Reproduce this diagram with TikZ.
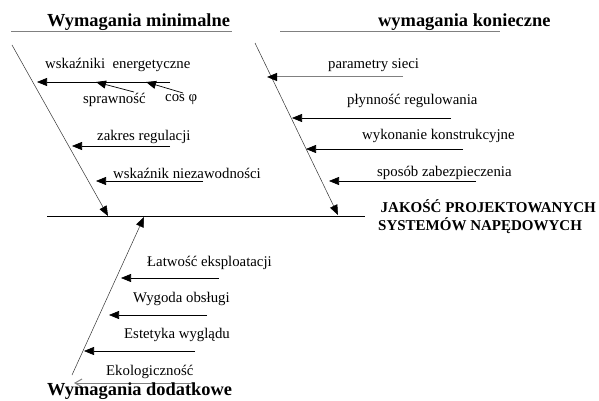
\documentclass[tikz,border=0pt]{standalone}
\usepackage{fontspec}
\setmainfont{Liberation Serif}
\usetikzlibrary{arrows.meta}
\begin{document}
\begin{tikzpicture}[x=1pt,y=-1pt,
  lbl/.style={anchor=west,inner sep=0pt,font=\fontsize{14.8}{17}\selectfont},
  ttl/.style={anchor=west,inner sep=0pt,font=\fontsize{18.4}{21}\selectfont\bfseries},
  tip/.tip={Triangle[length=10pt,width=8pt]},
  arr/.style={-{Triangle[length=10pt,width=8pt,color=black]},line width=0.7pt},
  spine/.style={line width=0.5pt,draw=black!80},
  uline/.style={line width=1pt,draw=black!50}]
\useasboundingbox (0,0) rectangle (599,401);
% titles
\node[ttl] (t1) at (47,22) {Wymagania minimalne};
\node[ttl] (t2) at (378,22) {wymagania konieczne};
\coordinate (u1a) at (11,32); \coordinate (u1b) at (232,32);
\coordinate (u2a) at (280,32); \coordinate (u2b) at (500,32);
\draw[uline] (u1a) -- (u1b);
\draw[uline] (u2a) -- (u2b);
% main horizontal line
\coordinate (ha) at (47,216); \coordinate (hb) at (365,216);
\draw[line width=0.8pt] (ha) -- (hb);
% spines
\coordinate (s1a) at (12,45); \coordinate (s1b) at (108,216);
\coordinate (s2a) at (255,43); \coordinate (s2b) at (338,215);
\coordinate (s3a) at (72,375); \coordinate (s3b) at (144,217);
\draw[spine,-{Triangle[length=10pt,width=8pt,color=black]}] (s1a) -- (s1b);
\draw[spine,-{Triangle[length=10pt,width=8pt,color=black]}] (s2a) -- (s2b);
\draw[spine,-{Triangle[length=10pt,width=8pt,color=black]}] (s3a) -- (s3b);
% result
\node[anchor=west,inner sep=0pt,font=\fontsize{15}{18}\selectfont\bfseries,align=left] (res) at (378,217)
  {\,JAKOŚĆ PROJEKTOWANYCH\\SYSTEMÓW NAPĘDOWYCH};
% left branches
\node[lbl] (w1) at (45,65) {wskaźniki\ \ energetyczne};
\coordinate (w1s) at (170,82); \coordinate (w1e) at (37,82);
\draw[arr] (w1s) -- (w1e);
\node[lbl] (w2) at (83,100) {sprawność};
\node[lbl] (w3) at (165,100) {cos φ};
\coordinate (w2s) at (134,92); \coordinate (w2e) at (96,82);
\coordinate (w3s) at (183,93); \coordinate (w3e) at (146,82);
\draw[arr] (w2s) -- (w2e);
\draw[arr] (w3s) -- (w3e);
\node[lbl] (z1) at (97,137) {zakres regulacji};
\coordinate (z1s) at (170,146); \coordinate (z1e) at (72,146);
\draw[arr] (z1s) -- (z1e);
\node[lbl] (n1) at (113,173) {wskaźnik niezawodności};
\coordinate (n1s) at (203,181); \coordinate (n1e) at (96,181);
\draw[arr] (n1s) -- (n1e);
% right branches
\node[lbl] (p1) at (328,65) {parametry sieci};
\coordinate (p1s) at (403,77); \coordinate (p1e) at (267,77);
\draw[arr,draw=black!50,line width=1pt] (p1s) -- (p1e);
\node[lbl] (p2) at (347,101) {płynność regulowania};
\coordinate (p2s) at (451,118); \coordinate (p2e) at (292,118);
\draw[arr] (p2s) -- (p2e);
\node[lbl] (p3) at (362,136) {wykonanie konstrukcyjne};
\coordinate (p3s) at (463,149); \coordinate (p3e) at (306,149);
\draw[arr] (p3s) -- (p3e);
\node[lbl] (p4) at (377,173) {sposób zabezpieczenia};
\coordinate (p4s) at (476,181); \coordinate (p4e) at (329,181);
\draw[arr] (p4s) -- (p4e);
% bottom branches
\node[lbl] (b1) at (147,263) {Łatwość eksploatacji};
\coordinate (b1s) at (219,278); \coordinate (b1e) at (121,278);
\draw[arr] (b1s) -- (b1e);
\node[lbl] (b2) at (133,299) {Wygoda obsługi};
\coordinate (b2s) at (207,315); \coordinate (b2e) at (109,315);
\draw[arr] (b2s) -- (b2e);
\node[lbl] (b3) at (124,335) {Estetyka wyglądu};
\coordinate (b3s) at (195,351); \coordinate (b3e) at (84,351);
\draw[arr] (b3s) -- (b3e);
\node[lbl] (b4) at (106,372) {Ekologiczność};
\coordinate (b4s) at (195,383); \coordinate (b4e) at (74,383);
\draw[line width=1pt,draw=black!50,-{Straight Barb[length=7pt,width=8pt]}] (b4s) -- (b4e);
\node[ttl] (t3) at (47,391) {Wymagania dodatkowe};
\end{tikzpicture}
\end{document}
